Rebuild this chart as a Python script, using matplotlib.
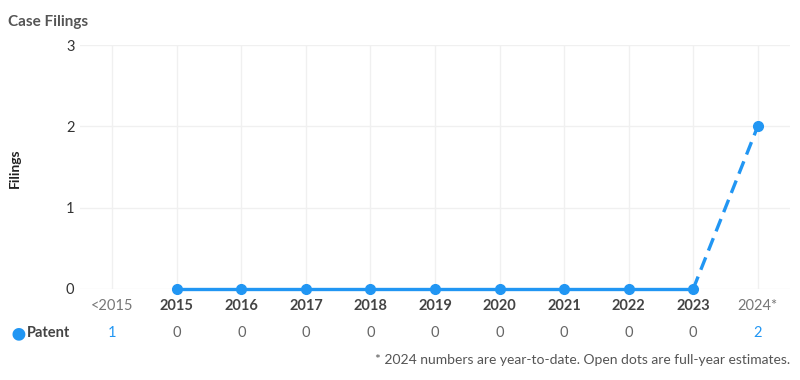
import matplotlib
matplotlib.use("Agg")
import matplotlib.pyplot as plt

plt.rcParams['font.family'] = ['Lato', 'DejaVu Sans']

categories = ["<2015", "2015", "2016", "2017", "2018", "2019", "2020", "2021", "2022", "2023", "2024*"]
patent_values = [1, 0, 0, 0, 0, 0, 0, 0, 0, 0, 2]
series_name = "Patent"
y_ticks = [0, 1, 2, 3]

BLUE = "#2196F3"
GRID = "#F0F0F0"

fig = plt.figure(figsize=(8, 3.8), dpi=100)
ax = fig.add_axes([0.1, 0.2395, 0.8875, 0.642])

x = list(range(len(categories)))
# solid line for complete years (excluding "<2015" and partial year)
ax.plot(x[1:10], patent_values[1:10], color=BLUE, lw=2.4, marker='o', ms=7,
        solid_capstyle='round', zorder=3, clip_on=False)
# dashed segment to year-to-date value
ax.plot(x[9:11], patent_values[9:11], color=BLUE, lw=2.4, ls=(0, (4, 2.2)), zorder=3,
        clip_on=False)
ax.plot([x[10]], [patent_values[10]], color=BLUE, marker='o', ms=7, ls='none', zorder=4,
        clip_on=False)

ax.set_xlim(-0.5, len(categories) - 0.5)
ax.set_ylim(0, 3)
ax.set_yticks(y_ticks)
ax.set_yticklabels([str(t) for t in y_ticks], fontsize=10.5, color="#333333")
ax.set_xticks(x)
ax.set_xticklabels([])
ax.tick_params(axis='both', length=0, pad=4)
ax.grid(True, color=GRID, lw=1)
ax.set_axisbelow(True)
for s in ax.spines.values():
    s.set_visible(False)

trans = ax.get_xaxis_transform()
for i, c in enumerate(categories):
    partial = c.startswith("<") or c.endswith("*")
    ax.text(i, -0.068, c, transform=trans, ha='center', va='center', fontsize=10.5,
            color="#777777" if partial else "#444444",
            fontweight='normal' if partial else 'bold')
    v = patent_values[i]
    ax.text(i, -0.182, str(v), transform=trans, ha='center', va='center', fontsize=10.5,
            color=BLUE if partial else "#666666")

# legend row
fig.text(18 / 800, 1 - 333.5 / 380, "\u25CF", color=BLUE, fontsize=19, ha='center', va='center')
fig.text(27 / 800, 1 - 333 / 380, series_name, color="#444444", fontsize=10.5,
         fontweight='bold', ha='left', va='center')

fig.text(8 / 800, 1 - 22 / 380, "Case Filings", color="#555555", fontsize=11,
         fontweight='bold', ha='left', va='center')
fig.text(15 / 800, 1 - 168 / 380, "Filings", color="#222222", fontsize=10,
         fontweight='bold', rotation=90, ha='center', va='center')
fig.text(790 / 800, 1 - 360 / 380,
         "* 2024 numbers are year-to-date. Open dots are full-year estimates.",
         color="#555555", fontsize=10, ha='right', va='center')

fig.savefig("out.png", dpi=100)
